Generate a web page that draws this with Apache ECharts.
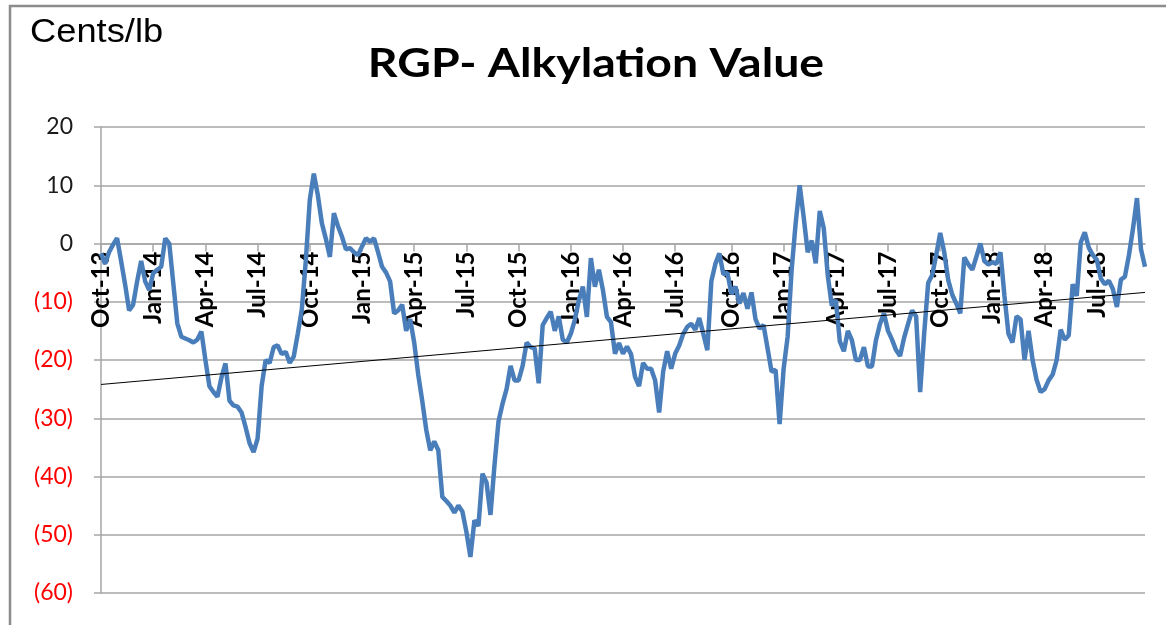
<!DOCTYPE html>
<html>
<head>
<meta charset="utf-8">
<script src="https://cdn.jsdelivr.net/npm/echarts@6/dist/echarts.min.js"></script>
<style>
  html, body { margin: 0; padding: 0; background: #fff; }
  #chart { width: 1166px; height: 625px; }
</style>
</head>
<body>
<div id="chart"></div>
<script>
// weekly values (cents/lb), one array per calendar year, Fridays from 4 Oct 2013
var v2013 = [-1.7, -3.5, -1.5, -0.2, 0.9, -3, -7, -11.5, -10.5, -6.5, -3, -6.5, -8];
var v2014 = [-5.1, -4.5, -4, 0.9, 0, -6.8, -13.7, -16, -16.3, -16.6, -17, -16.5, -15.1, -20, -24.5, -25.5, -26.3, -23, -20.6, -27,
  -27.8, -28, -29, -31.5, -34.3, -35.8, -33.5, -24.5, -20, -20.5, -17.8, -17.5, -19, -18.6, -20.5, -19.4, -15.5, -11.4, -3, 7.5,
  12, 8.3, 3.5, 0.8, -2.3, 5.2, 3, 1.2, -1, -0.8, -1.5, -2];
var v2015 = [-0.5, 0.9, 0.3, 0.9, -1.5, -4, -5, -6.5, -12, -11.5, -10.5, -15, -13, -17, -22.5, -27, -32, -35.5, -34, -35.5,
  -43.5, -44.2, -45, -46.2, -45, -46, -49.5, -53.8, -47.5, -48.5, -39.5, -41, -46.6, -38, -30.5, -27.5, -25, -21, -23.5, -23.5,
  -21, -17, -17.8, -18, -24, -14, -12.8, -11.7, -15, -12.5, -16.5, -17];
var v2016 = [-15.5, -13.1, -9.8, -7.4, -12.6, -2.5, -7.4, -4.5, -8, -12.6, -13.5, -18.9, -17.1, -18.9, -17.7, -19, -22.9, -24.5, -20.5, -21.5,
  -21.5, -23.5, -29, -22, -18.5, -21.5, -18.9, -17.5, -15.5, -14.3, -13.8, -14.8, -12.8, -15.5, -18.3, -6.5, -3.5, -1.7, -5.3, -5,
  -8.7, -7.4, -10.3, -8.5, -11.2, -8.4, -13, -14.6, -14, -18, -22, -21.7, -31];
var v2017 = [-21.5, -16, -4.5, 3.5, 10, 4.5, -1.5, 0.5, -3.4, 5.6, 2.6, -5.5, -10.7, -9.7, -16.8, -18.5, -15, -16.6, -20, -20,
  -17.8, -21.1, -21.1, -16.6, -13.8, -12, -15, -16.5, -18.3, -19.3, -16.2, -13.8, -11.5, -12.5, -25.5, -15.5, -6.8, -5.4, -2, 1.8,
  -1.5, -6.3, -8.8, -10.3, -12, -2.4, -3.6, -4.5, -2.3, 0, -3, -3.6];
var v2018 = [-3.2, -3.5, -1.5, -9, -15.5, -17, -12.5, -13, -20, -15, -20, -23.4, -25.5, -25, -23.5, -22.5, -20, -14.8, -16.5, -15.8,
  -7, -9, 0.2, 1.9, -0.7, -2, -2.8, -6, -7, -6.4, -7.8, -10.9, -6.2, -5.7, -2, 2.5, 7.8, -1, -4];

// linear trend line, value at first and last week
var trendEnds = [-24.2, -8.4];

var yTicks = { min: -60, max: 20, step: 10 };

var values = [].concat(v2013, v2014, v2015, v2016, v2017, v2018);

// weekly category labels
var monthNames = ['Jan', 'Feb', 'Mar', 'Apr', 'May', 'Jun', 'Jul', 'Aug', 'Sep', 'Oct', 'Nov', 'Dec'];
var categories = [];
var quarterStart = [];
var start = Date.UTC(2013, 9, 4);
for (var i = 0; i < values.length; i++) {
  var d = new Date(start + i * 7 * 86400000);
  var m = d.getUTCMonth();
  categories.push(monthNames[m] + '-' + String(d.getUTCFullYear()).slice(2));
  quarterStart.push(m % 3 === 0 && d.getUTCDate() <= 7);
}

var trend = values.map(function (v, i) {
  if (i === 0) return trendEnds[0];
  if (i === values.length - 1) return trendEnds[1];
  return null;
});

var gridTop = 127, gridBottom = 32, chartH = 625;
// x axis sits on the zero line: shift it up from the grid bottom
var plotH = chartH - gridTop - gridBottom;
var zeroOffset = -plotH * (0 - yTicks.min) / (yTicks.max - yTicks.min);

var chart = echarts.init(document.getElementById('chart'));
chart.setOption({
  animation: false,
  backgroundColor: '#fff',
  grid: { left: 101, right: 21, top: gridTop, bottom: gridBottom, containLabel: false, outerBoundsMode: 'none' },
  graphic: [
    {
      type: 'rect', silent: true,
      shape: { x: 10, y: 6, width: 1200, height: 700 },
      style: { fill: 'none', stroke: '#8c8c8c', lineWidth: 2.5 }
    },
    {
      type: 'text', x: 30, y: 33, scaleX: 1.1,
      style: { text: 'Cents/lb', fill: '#000', font: '33px "Liberation Sans", Arial, sans-serif', textVerticalAlign: 'middle' }
    },
    {
      type: 'text',
      x: 596, y: 64, scaleX: 1.16,
      style: {
        text: 'RGP- Alkylation Value', fill: '#000',
        font: 'bold 40px Lato, "Open Sans", sans-serif',
        textAlign: 'center', textVerticalAlign: 'middle'
      }
    }
  ],
  xAxis: {
    type: 'category',
    data: categories,
    boundaryGap: false,
    position: 'bottom',
    offset: zeroOffset,
    axisLine: { onZero: false, lineStyle: { color: '#a6a6a6', width: 1.5 } },
    axisTick: {
      show: true, length: 8,
      interval: function (idx) { return quarterStart[idx]; },
      lineStyle: { color: '#a6a6a6', width: 1.5 }
    },
    axisLabel: {
      rotate: 90,
      margin: 8,
      interval: function (idx) { return quarterStart[idx]; },
      color: '#000',
      fontFamily: 'Lato',
      fontWeight: 'bold',
      fontSize: 24
    },
    splitLine: { show: false }
  },
  yAxis: {
    type: 'value',
    min: yTicks.min, max: yTicks.max, interval: yTicks.step,
    axisLine: { show: true, lineStyle: { color: '#a6a6a6', width: 1.5 } },
    axisTick: { show: true, length: 7, lineStyle: { color: '#a6a6a6', width: 1.5 } },
    splitLine: { lineStyle: { color: '#a6a6a6', width: 1.5 } },
    axisLabel: {
      margin: 28,
      formatter: function (v) {
        return v < 0 ? '{neg|(' + Math.abs(v) + ')}' : '{pos|' + v + '}';
      },
      rich: {
        neg: { color: '#ff0000', fontFamily: 'Lato', fontSize: 23 },
        pos: { color: '#1a1a1a', fontFamily: 'Lato', fontSize: 23 }
      }
    }
  },
  series: [
    {
      name: 'RGP- Alkylation Value',
      type: 'line',
      data: values,
      showSymbol: false,
      lineStyle: { color: '#4a7ebb', width: 4.5 },
      z: 3
    },
    {
      name: 'Trend',
      type: 'line',
      data: trend,
      connectNulls: true,
      showSymbol: false,
      lineStyle: { color: '#000', width: 1 },
      z: 4
    }
  ]
});
</script>
</body>
</html>
